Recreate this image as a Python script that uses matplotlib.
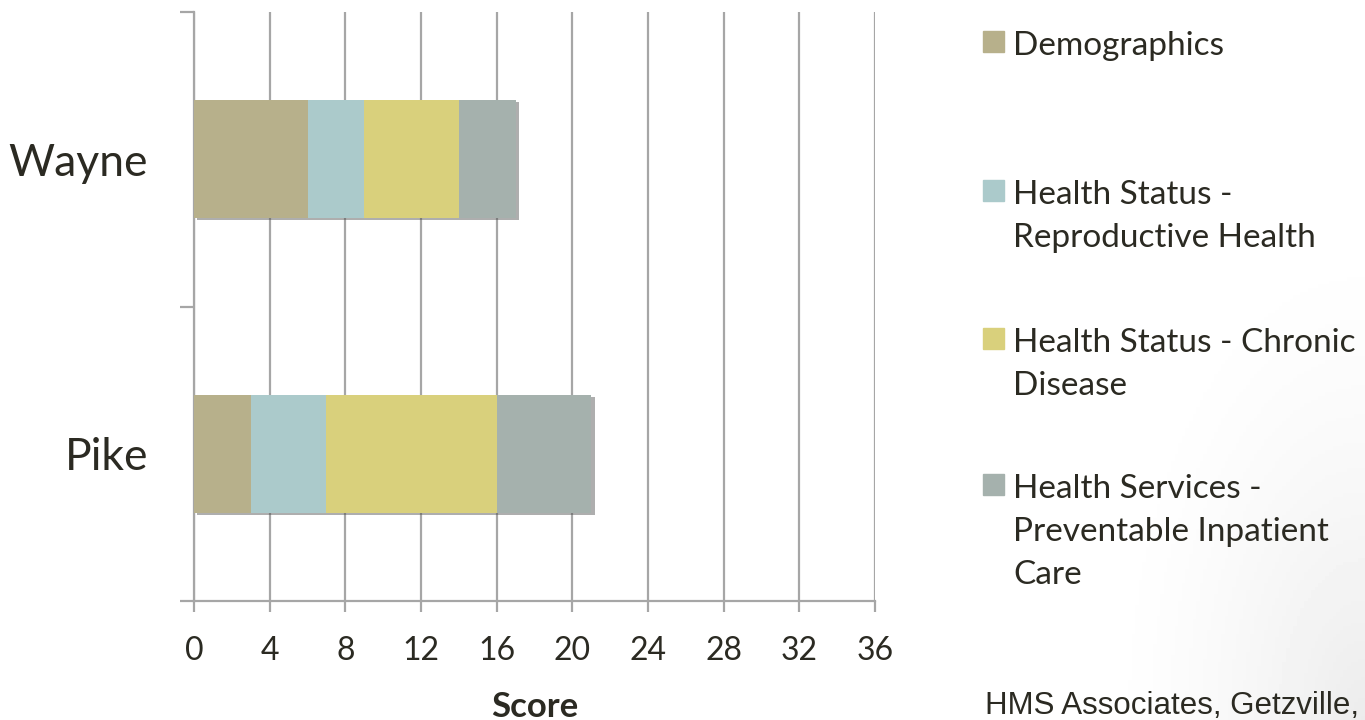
import numpy as np
import matplotlib
matplotlib.use("Agg")
import matplotlib.pyplot as plt
from matplotlib import patheffects
from matplotlib.patches import Rectangle

# data
counties = ["Pike", "Wayne"]
series = [
    "Demographics",
    "Health Status -\nReproductive Health",
    "Health Status - Chronic\nDisease",
    "Health Services -\nPreventable Inpatient\nCare",
]
demographics = [3, 6]
reproductive = [4, 3]
chronic = [9, 5]
preventable = [5, 3]
values = [demographics, reproductive, chronic, preventable]
colors = ["#B7B08B", "#ABCACB", "#D9D07C", "#A5B1AD"]
xticks = list(range(0, 37, 4))

W, H = 1365, 720
TEXT = "#2B2A22"
GRID = "#A6A6A6"
FONT = "Lato"

fig = plt.figure(figsize=(W / 100, H / 100), dpi=100)

# faint shading at the lower right, like the slide background
bg = fig.add_axes([0, 0, 1, 1], zorder=-10)
yy, xx = np.mgrid[0:1:200j, 0:1:380j]
d = np.clip(1 - np.hypot((1 - xx) * 5.0, yy * 1.4), 0, 1)
bg.imshow(1 - 0.075 * d ** 1.5, cmap="gray", vmin=0, vmax=1, extent=[0, 1, 0, 1],
          aspect="auto", origin="lower")
bg.axis("off")

ax = fig.add_axes([194 / W, 1 - 601 / H, (875 - 194) / W, (601 - 12) / H])
ax.patch.set_alpha(0)

y = np.arange(len(counties))
left = np.zeros(len(counties))
for name, vals, c in zip(series, values, colors):
    ax.barh(y, vals, left=left, height=0.4, color=c, zorder=3,
            path_effects=[patheffects.SimplePatchShadow(offset=(2.5, -1.5), shadow_rgbFace="0.3", alpha=0.45),
                          patheffects.Normal()])
    left += np.array(vals)

ax.set_xlim(0, 36)
ax.set_ylim(-0.5, 1.5)
ax.set_xticks(xticks)
ax.set_xticklabels([str(t) for t in xticks], fontsize=23, family=FONT, color=TEXT)
ax.xaxis.grid(True, color=GRID, linewidth=1.6, zorder=0)
ax.set_axisbelow(True)

ax.set_yticks([-0.5, 0.5, 1.5])
ax.set_yticklabels([])
ax.set_yticks(y, minor=True)
ax.set_yticklabels(counties, minor=True, fontsize=32, family=FONT, color=TEXT)
ax.tick_params(axis="y", which="minor", length=0, pad=33)
ax.tick_params(axis="y", which="major", length=10, width=1.6, color=GRID)
ax.tick_params(axis="x", length=8, width=1.6, color=GRID, pad=17)

for s in ["top", "right"]:
    ax.spines[s].set_visible(False)
for s in ["left", "bottom"]:
    ax.spines[s].set_color(GRID)
    ax.spines[s].set_linewidth(1.6)

ax.set_xlabel("Score", fontsize=25, fontweight="bold", family=FONT, color=TEXT, labelpad=18)

# legend, laid out like the original slide
first_baselines = [55, 204, 352, 498]
for name, c, b in zip(series, colors, first_baselines):
    fig.patches.append(Rectangle((983 / W, 1 - (b - 3) / H), 21 / W, 21 / H,
                                 transform=fig.transFigure, color=c, figure=fig))
    for i, line in enumerate(name.split("\n")):
        fig.text(1013 / W, 1 - (b + 43 * i) / H, line, fontsize=24, family=FONT,
                 color=TEXT, va="baseline", ha="left")

fig.text(985 / W, 1 - 714 / H, "HMS Associates, Getzville,", fontsize=22.5,
         family="Liberation Sans", color=TEXT, va="baseline", ha="left")

fig.savefig("out.png", dpi=100)
